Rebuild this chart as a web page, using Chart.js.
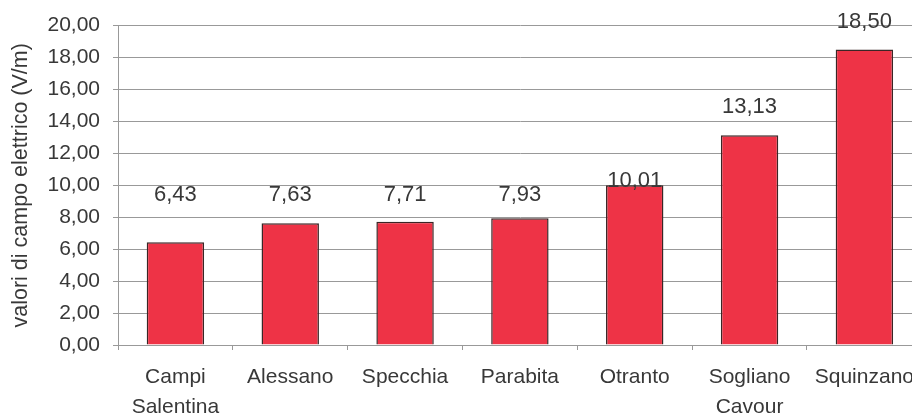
<!DOCTYPE html>
<html>
<head>
<meta charset="utf-8">
<script src="https://cdn.jsdelivr.net/npm/chart.js@4.4.1/dist/chart.umd.min.js"></script>
<style>
  html, body { margin: 0; padding: 0; background: #fff; overflow: hidden; }
  #wrap { width: 926px; height: 417px; }
</style>
</head>
<body>
<div id="wrap"><canvas id="barChart"></canvas></div>
<script>
var categories = [["Campi", "Salentina"], "Alessano", "Specchia", "Parabita", "Otranto", ["Sogliano", "Cavour"], "Squinzano"];
var values = [6.43, 7.63, 7.71, 7.93, 10.01, 13.13, 18.50];
var yTicks = [0, 2, 4, 6, 8, 10, 12, 14, 16, 18, 20];
// height (in V/m) where each value label sits, as in the original
var labelLevels = [9.4, 9.4, 9.4, 9.4, 10.3, 14.9, 20.25];

var FONT = "'Liberation Sans', Arial, sans-serif";

function fmt(v) {
    return v.toFixed(2).replace(".", ",");
}

var valueLabels = {
    id: "valueLabels",
    afterDatasetsDraw: function (chart) {
        var ctx = chart.ctx;
        var meta = chart.getDatasetMeta(0);
        var y = chart.scales.y;
        ctx.save();
        ctx.font = "22px " + FONT;
        ctx.fillStyle = "#383838";
        ctx.textAlign = "center";
        ctx.textBaseline = "middle";
        meta.data.forEach(function (bar, i) {
            ctx.fillText(fmt(values[i]), bar.x, y.getPixelForValue(labelLevels[i]));
        });
        ctx.restore();
    }
};

var ctx = document.getElementById("barChart").getContext("2d");
var myChart = new Chart(ctx, {
    type: "bar",
    data: {
        labels: categories,
        datasets: [
            {
                data: values,
                backgroundColor: "#ee3346",
                borderColor: "#3a2626",
                borderWidth: 1.5,
                barPercentage: 0.5,
                categoryPercentage: 1,
            },
        ],
    },
    options: {
        responsive: true,
        maintainAspectRatio: false,
        animation: false,
        layout: { padding: { top: 25, right: 0, left: 0, bottom: 0 } },
        plugins: {
            legend: { display: false },
            tooltip: { enabled: false },
        },
        scales: {
            x: {
                grid: {
                    offset: true,
                    drawOnChartArea: false,
                    drawTicks: true,
                    tickLength: 5,
                    color: "#999",
                },
                border: { color: "#999" },
                ticks: {
                    color: "#383838",
                    padding: 12,
                    maxRotation: 0,
                    autoSkip: false,
                    font: { family: FONT, size: 21, lineHeight: 1.43 },
                },
                afterFit: function (scale) { scale.height = 72; },
            },
            y: {
                min: 0,
                max: 20,
                afterBuildTicks: function (scale) {
                    scale.ticks = yTicks.map(function (v) { return { value: v }; });
                },
                grid: { color: "#999", tickLength: 5 },
                border: { color: "#999" },
                ticks: {
                    color: "#383838",
                    padding: 13,
                    font: { family: FONT, size: 21 },
                    callback: function (v) { return fmt(v); },
                },
                title: {
                    display: true,
                    text: "valori di campo elettrico (V/m)",
                    color: "#383838",
                    padding: { top: 8, bottom: 0 },
                    font: { family: FONT, size: 21.5 },
                },
                afterFit: function (scale) { scale.width = 118; },
            },
        },
    },
    plugins: [valueLabels],
});
</script>
</body>
</html>
